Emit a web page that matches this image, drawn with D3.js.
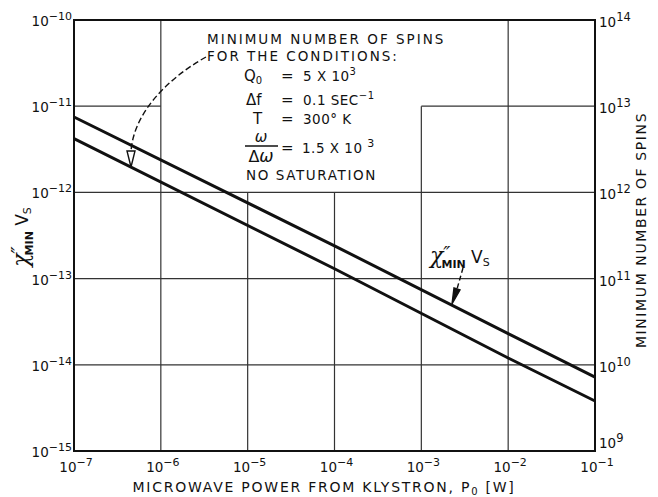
<!DOCTYPE html>
<html>
<head>
<meta charset="utf-8">
<script src="https://cdn.jsdelivr.net/npm/d3@7"></script>
<style>
  body { margin: 0; background: #fff; }
  text { font-family: "DejaVu Sans", sans-serif; fill: #111; }
</style>
</head>
<body>
<div id="chart"></div>
<script>
// microwave power from klystron [W]
const powerW = [1e-7, 1e-4, 1e-2, 1e-1];
// upper curve (the one labelled chi''_min Vs)
const chiUpper = [7.5e-12, 2.4e-13, 2.3e-14, 7.2e-15];
// lower curve
const chiLower = [4.2e-12, 1.3e-13, 1.2e-14, 3.8e-15];

const xTicks = [-7, -6, -5, -4, -3, -2, -1];
const yTicks = [-10, -11, -12, -13, -14, -15];
const spinTicks = [14, 13, 12, 11, 10, 9];

const conditions = [
  { lhs: "Q", sub: "0", val: "5 X 10", sup: "3" },
  { lhs: "Δf", sub: "", val: "0.1 SEC", sup: "−1" },
  { lhs: "T", sub: "", val: "300° K", sup: "" }
];

const width = 658, height = 497;
const margin = { top: 20, right: 63, bottom: 46, left: 74 };

const svg = d3.select("#chart").append("svg")
  .attr("width", width)
  .attr("height", height);

const x = d3.scaleLog().domain([1e-7, 1e-1]).range([margin.left, width - margin.right]);
const y = d3.scaleLog().domain([1e-15, 1e-10]).range([height - margin.bottom, margin.top]);
const ySpin = d3.scaleLog().domain([1e9, 1e14]).range([height - margin.bottom, margin.top]);

// grid - partly left out behind the annotation, like the original
const grid = svg.append("g").attr("stroke", "#333").attr("stroke-width", 1.2);
const vTop = { "-6": -10, "-5": -12, "-4": -12, "-3": -11, "-2": -10 };
xTicks.slice(1, -1).forEach(e => {
  grid.append("line")
    .attr("x1", x(10 ** e)).attr("x2", x(10 ** e))
    .attr("y1", y(10 ** vTop[e])).attr("y2", y(1e-15));
});
yTicks.slice(1, -1).forEach(e => {
  if (e === -11) {
    grid.append("line").attr("x1", x(1e-7)).attr("x2", x(1e-6)).attr("y1", y(1e-11)).attr("y2", y(1e-11));
    grid.append("line").attr("x1", x(1e-3)).attr("x2", x(1e-1)).attr("y1", y(1e-11)).attr("y2", y(1e-11));
  } else {
    grid.append("line").attr("x1", x(1e-7)).attr("x2", x(1e-1)).attr("y1", y(10 ** e)).attr("y2", y(10 ** e));
  }
});

// frame
svg.append("rect")
  .attr("x", x(1e-7)).attr("y", y(1e-10))
  .attr("width", x(1e-1) - x(1e-7)).attr("height", y(1e-15) - y(1e-10))
  .attr("fill", "none").attr("stroke", "#111").attr("stroke-width", 2);

// tick labels 10^n
function powLabel(g, e, fs) {
  g.append("tspan").text("10");
  g.append("tspan").attr("dy", -6).attr("font-size", fs).text(e < 0 ? "−" + (-e) : e);
}

svg.append("g").selectAll("text").data(yTicks).join("text")
  .attr("x", margin.left - 2).attr("y", d => y(10 ** d) + 6)
  .attr("text-anchor", "end").attr("font-size", 13.5)
  .each(function (d) { powLabel(d3.select(this), d, 11); });

svg.append("g").selectAll("text").data(spinTicks).join("text")
  .attr("x", width - margin.right + 4)
  .attr("y", d => ySpin(10 ** d) + (d === 9 ? -3 : 7))
  .attr("font-size", 13.5)
  .each(function (d) { powLabel(d3.select(this), d, 11.5); });

svg.append("g").selectAll("text").data(xTicks).join("text")
  .attr("x", d => x(10 ** d) + 2).attr("y", 472)
  .attr("text-anchor", "middle").attr("font-size", 13.5)
  .each(function (d) { powLabel(d3.select(this), d, 11); });

// axis titles
const xt = svg.append("text")
  .attr("x", 324).attr("y", 492)
  .attr("text-anchor", "middle").attr("font-size", 14).attr("letter-spacing", 1.75);
xt.append("tspan").text("MICROWAVE POWER FROM KLYSTRON,  P");
xt.append("tspan").attr("dy", 3).attr("font-size", 10).text("0");
xt.append("tspan").attr("dy", -3).text(" [W]");

svg.append("text")
  .attr("transform", "translate(646," + 230 + ") rotate(-90)")
  .attr("text-anchor", "middle").attr("font-size", 14).attr("letter-spacing", 1.6)
  .text("MINIMUM NUMBER OF SPINS");

function chiLabel(t, big) {
  t.append("tspan").attr("font-style", "italic").attr("font-family", "DejaVu Serif").attr("font-size", big + 5).text("χ");
  t.append("tspan").attr("dy", -3).attr("font-size", big + 2).attr("font-style", "italic").text("″");
  t.append("tspan").attr("dx", -9).attr("dy", 8).attr("font-size", big - 6).attr("font-weight", "bold").text("MIN");
  t.append("tspan").attr("dy", -5).attr("font-size", big).text(" V");
  t.append("tspan").attr("dy", 3).attr("font-size", big - 6).text("S");
}
chiLabel(svg.append("text")
  .attr("transform", "translate(28,237) rotate(-90)")
  .attr("text-anchor", "middle"), 17);

// curves
const line = d3.line().x(d => x(d[0])).y(d => y(d[1]));
[chiUpper, chiLower].forEach(s => {
  svg.append("path")
    .datum(d3.zip(powerW, s))
    .attr("d", line)
    .attr("fill", "none").attr("stroke", "#111").attr("stroke-width", 3);
});

// annotation block
const ann = svg.append("g").attr("font-size", 13.5);
ann.append("text").attr("x", 207).attr("y", 44).attr("letter-spacing", 2)
  .text("MINIMUM NUMBER OF SPINS");
ann.append("text").attr("x", 207).attr("y", 61).attr("letter-spacing", 2)
  .text("FOR THE CONDITIONS:");
const rowY = [81, 105, 124];
const lhsX = [244, 246, 253];
conditions.forEach((c, i) => {
  const t = ann.append("text").attr("x", lhsX[i]).attr("y", rowY[i]).attr("font-size", 15);
  t.append("tspan").text(c.lhs);
  if (c.sub) t.append("tspan").attr("dy", 3).attr("font-size", 10).text(c.sub);
  ann.append("text").attr("x", 281).attr("y", rowY[i]).attr("font-size", 15).text("=");
  const v = ann.append("text").attr("x", 303).attr("y", rowY[i]).attr("letter-spacing", 0.5);
  v.append("tspan").text(c.val);
  if (c.sup) v.append("tspan").attr("dy", -6).attr("font-size", 10).text(c.sup);
});
// omega / delta omega
ann.append("text").attr("x", 261).attr("y", 142).attr("text-anchor", "middle")
  .attr("font-size", 15).attr("font-style", "italic").text("ω");
ann.append("line").attr("x1", 245).attr("x2", 278).attr("y1", 146).attr("y2", 146)
  .attr("stroke", "#111").attr("stroke-width", 1.5);
ann.append("text").attr("x", 261).attr("y", 162).attr("text-anchor", "middle")
  .attr("font-size", 16).text("Δ").append("tspan").attr("font-style", "italic").attr("font-size", 17).text("ω");
ann.append("text").attr("x", 281).attr("y", 153).attr("font-size", 15).text("=");
const om = ann.append("text").attr("x", 302).attr("y", 153).attr("letter-spacing", 0.5);
om.append("tspan").text("1.5 X 10 ");
om.append("tspan").attr("dy", -6).attr("font-size", 11).text("3");
ann.append("text").attr("x", 246).attr("y", 180).attr("letter-spacing", 1.6).text("NO SATURATION");

// dashed arrows
const arrowG = svg.append("g").attr("stroke", "#111").attr("fill", "none").attr("stroke-width", 1.4);
arrowG.append("path")
  .attr("d", "M206,57 C165,80 133,115 131,152")
  .attr("stroke-dasharray", "6,3");
arrowG.append("path").attr("d", "M127,151 L135,151 L131,167 Z").attr("fill", "#fff");

chiLabel(svg.append("text").attr("x", 430).attr("y", 263), 17);
arrowG.append("path").attr("d", "M463,268 L457,289").attr("stroke-dasharray", "5,3");
arrowG.append("path").attr("d", "M454,288 L460,290 L452,304 Z").attr("fill", "#111");
</script>
</body>
</html>
